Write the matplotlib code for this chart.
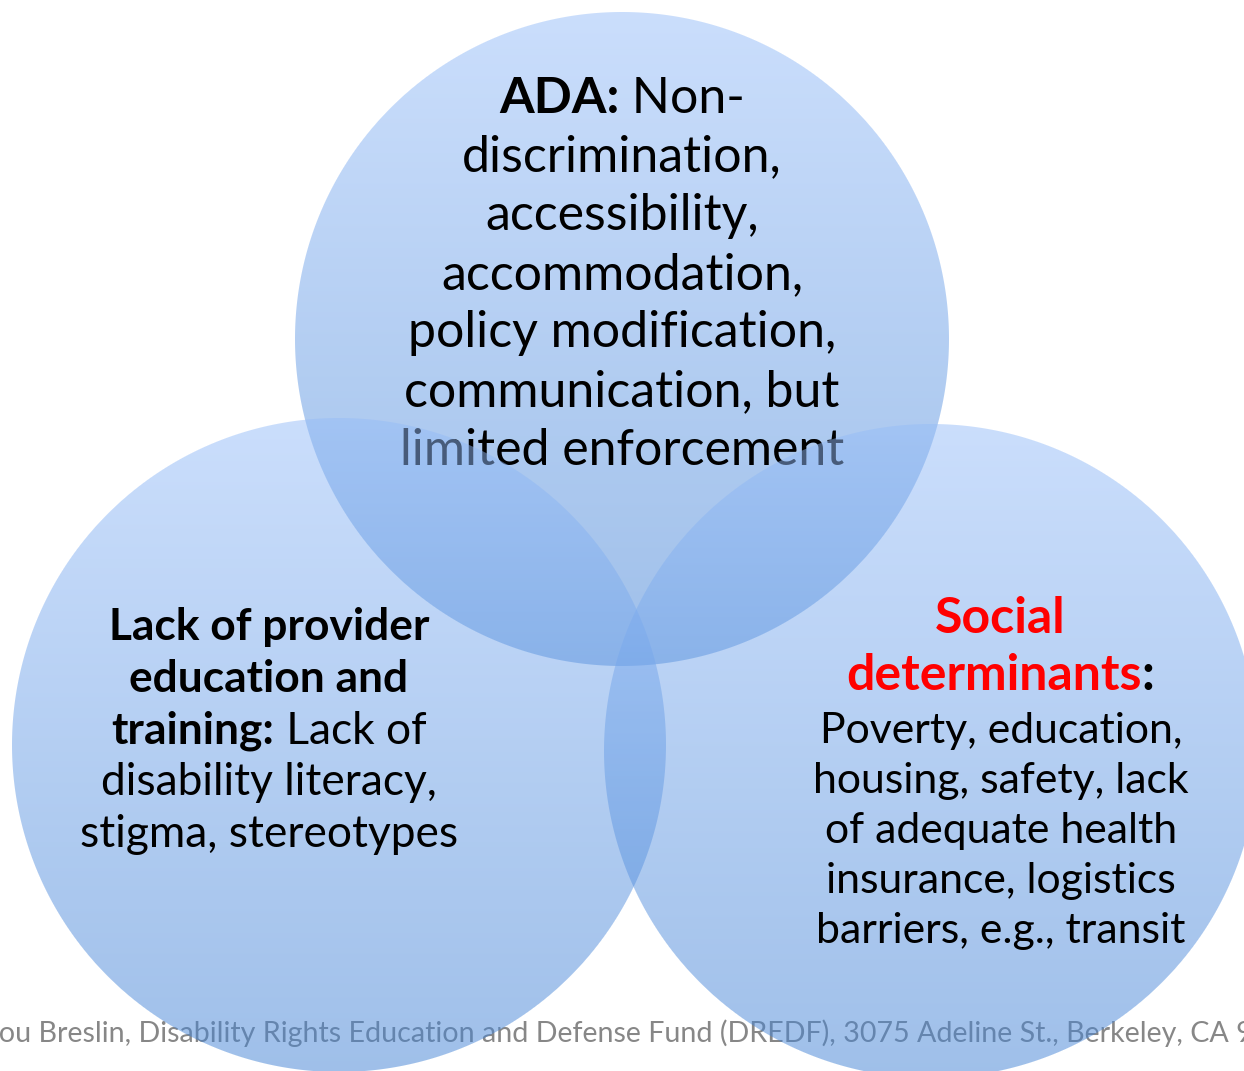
"""
Three-circle Venn diagram (ADA / provider education / social determinants),
drawn with gradient, semi-transparent circles and centred text blocks.
"""

import matplotlib
matplotlib.use("Agg")
import matplotlib.pyplot as plt
import numpy as np

W, H, DPI = 1244, 1071, 100
FONT = "Lato"

# circles: top (ADA), left (provider education), right (social determinants)
CIRCLE_X = [622, 339, 931]
CIRCLE_Y = [339, 745, 751]
RADIUS = 327
COLOR_TOP = np.array([150, 189, 249]) / 255
COLOR_BOTTOM = np.array([62, 128, 212]) / 255
ALPHA = 0.5

B, N = "bold", "normal"
RED = "#ff0000"

TOP_LINES = [
    [("ADA:", B, "black"), (" Non-", N, "black")],
    [("discrimination,", N, "black")],
    [("accessibility,", N, "black")],
    [("accommodation,", N, "black")],
    [("policy modification,", N, "black")],
    [("communication, but", N, "black")],
    [("limited enforcement", N, "black")],
]
LEFT_LINES = [
    [("Lack of provider", B, "black")],
    [("education and", B, "black")],
    [("training:", B, "black"), (" Lack of", N, "black")],
    [("disability literacy,", N, "black")],
    [("stigma, stereotypes", N, "black")],
]
RIGHT_TITLE = [
    [("Social", B, RED)],
    [("determinants", B, RED), (":", B, "black")],
]
RIGHT_LINES = [
    [("Poverty, education,", N, "black")],
    [("housing, safety, lack", N, "black")],
    [("of adequate health", N, "black")],
    [("insurance, logistics", N, "black")],
    [("barriers, e.g., transit", N, "black")],
]
FOOTER = "Lou Breslin, Disability Rights Education and Defense Fund (DREDF), 3075 Adeline St., Berkeley, CA 94703"


def circle_layer(xx, yy, cx, cy):
    d = np.hypot(xx - cx, yy - cy)
    cover = np.clip(RADIUS - d + 0.5, 0, 1)
    t = np.clip((yy - (cy - RADIUS)) / (2 * RADIUS), 0, 1)[..., None]
    rgb = COLOR_TOP * (1 - t) + COLOR_BOTTOM * t
    return rgb, cover * ALPHA


def over(rgb_a, a_a, rgb_b, a_b):
    a = a_a + a_b * (1 - a_a)
    num = rgb_a * a_a[..., None] + rgb_b * (a_b * (1 - a_a))[..., None]
    return num / np.maximum(a, 1e-9)[..., None], a


def seg_widths(ax, renderer, segments, size_px):
    pts = size_px * 72 / DPI
    out = []
    for s, weight, color in segments:
        t = ax.text(0, 0, s, fontsize=pts, fontweight=weight, family=FONT)
        out.append(t.get_window_extent(renderer).width)
        t.remove()
    return out


def fit_size(ax, renderer, segments, target_w, guess=40):
    return guess * target_w / sum(seg_widths(ax, renderer, segments, guess))


def draw_line(ax, renderer, segments, cx, y, size_px, zorder):
    pts = size_px * 72 / DPI
    widths = seg_widths(ax, renderer, segments, size_px)
    x = cx - sum(widths) / 2
    for (s, weight, color), w in zip(segments, widths):
        ax.text(x, y, s, fontsize=pts, fontweight=weight, color=color, family=FONT,
                ha="left", va="baseline", zorder=zorder)
        x += w


def main() -> None:
    fig = plt.figure(figsize=(W / DPI, H / DPI), dpi=DPI)
    ax = fig.add_axes([0, 0, 1, 1])
    ax.set_axis_off()
    renderer = fig.canvas.get_renderer()

    yy, xx = np.mgrid[0:H, 0:W] + 0.5
    top_rgb, top_a = circle_layer(xx, yy, CIRCLE_X[0], CIRCLE_Y[0])
    l_rgb, l_a = circle_layer(xx, yy, CIRCLE_X[1], CIRCLE_Y[1])
    r_rgb, r_a = circle_layer(xx, yy, CIRCLE_X[2], CIRCLE_Y[2])
    lr_rgb, lr_a = over(r_rgb, r_a, l_rgb, l_a)

    ax.imshow(np.dstack([top_rgb, top_a]), extent=(0, W, H, 0), interpolation="nearest", zorder=2)
    ax.imshow(np.dstack([lr_rgb, lr_a]), extent=(0, W, H, 0), interpolation="nearest", zorder=4)
    ax.set_xlim(0, W)
    ax.set_ylim(H, 0)
    ax.set_aspect("auto")

    # footer (under the circles), cut off at both sides like the slide
    fpx = fit_size(ax, renderer, [(FOOTER[1:FOOTER.index("CA") + 2], N, "k")], 1229, 34)
    lw = seg_widths(ax, renderer, [("L", N, "k")], fpx)[0]
    ax.text(-lw - 1, 1042, FOOTER, fontsize=fpx * 72 / DPI, color="#878787", family=FONT,
            ha="left", va="baseline", zorder=1)

    # top block, drawn under the left/right circles
    size = fit_size(ax, renderer, TOP_LINES[5], 436)
    for i, line in enumerate(TOP_LINES):
        draw_line(ax, renderer, line, 622, 113 + 58.6 * i, size, 3)

    size = fit_size(ax, renderer, LEFT_LINES[4], 378)
    for i, line in enumerate(LEFT_LINES):
        draw_line(ax, renderer, line, 269, 640 + 51.8 * i, size, 5)

    size = fit_size(ax, renderer, RIGHT_TITLE[1], 309)
    for i, line in enumerate(RIGHT_TITLE):
        draw_line(ax, renderer, line, 1000, 633 + 57 * i, size, 5)

    size = fit_size(ax, renderer, RIGHT_LINES[4], 370)
    for i, line in enumerate(RIGHT_LINES):
        draw_line(ax, renderer, line, 1001, 743 + 50 * i, size, 5)

    fig.savefig("out.png", dpi=DPI)
    plt.close(fig)


if __name__ == "__main__":
    main()
